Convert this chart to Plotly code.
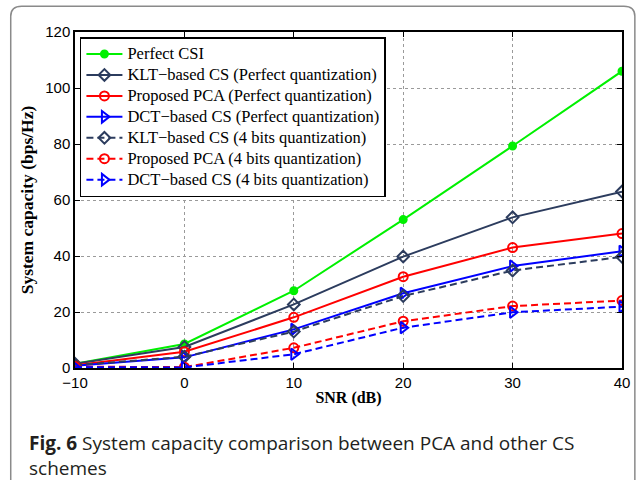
import plotly.graph_objects as go

snr = [-10, 0, 10, 20, 30, 40]
perfect_csi = [1.5, 8.6, 27.6, 53.0, 79.3, 106.0]
klt_perfect = [1.5, 7.5, 22.7, 39.8, 53.8, 63.0]
pca_perfect = [1.0, 5.8, 18.1, 32.6, 43.0, 48.0]
dct_perfect = [0.8, 3.8, 13.8, 26.7, 36.4, 41.7]
klt_4bit = [1.0, 4.0, 13.0, 25.7, 34.8, 39.7]
pca_4bit = [0.5, 0.3, 7.2, 16.7, 22.1, 24.1]
dct_4bit = [0.3, 0.2, 4.9, 14.4, 19.9, 21.9]

names = [
    "Perfect CSI",
    "KLT\u2212based CS (Perfect quantization)",
    "Proposed PCA (Perfect quantization)",
    "DCT\u2212based CS (Perfect quantization)",
    "KLT\u2212based CS (4 bits quantization)",
    "Proposed PCA (4 bits quantization)",
    "DCT\u2212based CS (4 bits quantization)",
]

GREEN = "#00f000"
NAVY = "#2c3c5e"
RED = "#ff0000"
BLUE = "#0000ff"

series = [
    (perfect_csi, GREEN, "solid", "circle", 7),
    (klt_perfect, NAVY, "solid", "diamond-open", 9),
    (pca_perfect, RED, "solid", "circle-open", 9),
    (dct_perfect, BLUE, "solid", "triangle-right-open", 10),
    (klt_4bit, NAVY, "7px,4px", "diamond-open", 9),
    (pca_4bit, RED, "7px,4px", "circle-open", 9),
    (dct_4bit, BLUE, "7px,4px", "triangle-right-open", 10),
]

fig = go.Figure()
for (vals, col, dash, sym, sz), nm in zip(series, names):
    fig.add_trace(go.Scatter(
        x=snr, y=vals, name=f'<span style="font-size:16.5px">{nm}</span>',
        mode="lines+markers",
        line=dict(color=col, width=2, dash=dash),
        marker=dict(symbol=sym, size=sz, color=col, line=dict(color=col, width=2)),
    ))

axis_common = dict(
    showline=True, linecolor="black", linewidth=1.5, mirror="allticks",
    ticks="inside", ticklen=5, tickcolor="black",
    showgrid=True, gridcolor="#9a9a9a", griddash="dot", gridwidth=1,
    zeroline=False, automargin=False,
    tickfont=dict(family="Liberation Sans, Arial", size=15, color="black"),
)

fig.update_layout(
    width=637, height=480,
    margin=dict(l=75, r=15, t=32, b=112),
    paper_bgcolor="white", plot_bgcolor="white",
    xaxis=dict(range=[-10, 40], tickvals=[-10, 0, 10, 20, 30, 40], **axis_common,
               title=dict(text="<b>SNR (dB)</b>", standoff=2,
                          font=dict(family="Liberation Serif, Times New Roman", size=16, color="black"))),
    yaxis=dict(range=[0, 120], tickvals=[0, 20, 40, 60, 80, 100, 120], **axis_common,
               title=dict(text="<b>System capacity (bps/Hz)</b>", standoff=7,
                          font=dict(family="Liberation Serif, Times New Roman", size=17.5, color="black"))),
    legend=dict(
        x=0.009, y=0.985, xanchor="left", yanchor="top",
        bgcolor="white", bordercolor="black", borderwidth=1.5,
        font=dict(family="Liberation Serif, Times New Roman", size=13.8, color="black"),
        itemwidth=36, tracegroupgap=0,
    ),
    showlegend=True,
)

# card border (rounded rectangle) around the figure
x0, x1, y0, y1 = -0.1175, 1.0235, -0.40, 1.077
rx, ry = 0.02, 0.03
path = (f"M {x0+rx},{y1} L {x1-rx},{y1} Q {x1},{y1} {x1},{y1-ry} "
        f"L {x1},{y0+ry} Q {x1},{y0} {x1-rx},{y0} L {x0+rx},{y0} "
        f"Q {x0},{y0} {x0},{y0+ry} L {x0},{y1-ry} Q {x0},{y1} {x0+rx},{y1} Z")
fig.add_shape(type="path", path=path, xref="paper", yref="paper",
              line=dict(color="#8a8a8a", width=1.5), layer="below")

fig.add_annotation(
    text="<b>Fig. 6</b> System capacity comparison between PCA and other CS<br>schemes",
    xref="paper", yref="paper", x=-0.087, y=-0.18, xanchor="left", yanchor="top",
    align="left", showarrow=False,
    font=dict(family="Open Sans, Noto Sans", size=19, color="#231f20"),
)

fig.write_html("out.html", config={"displayModeBar": False},
               post_script="document.body.style.margin='0';")
